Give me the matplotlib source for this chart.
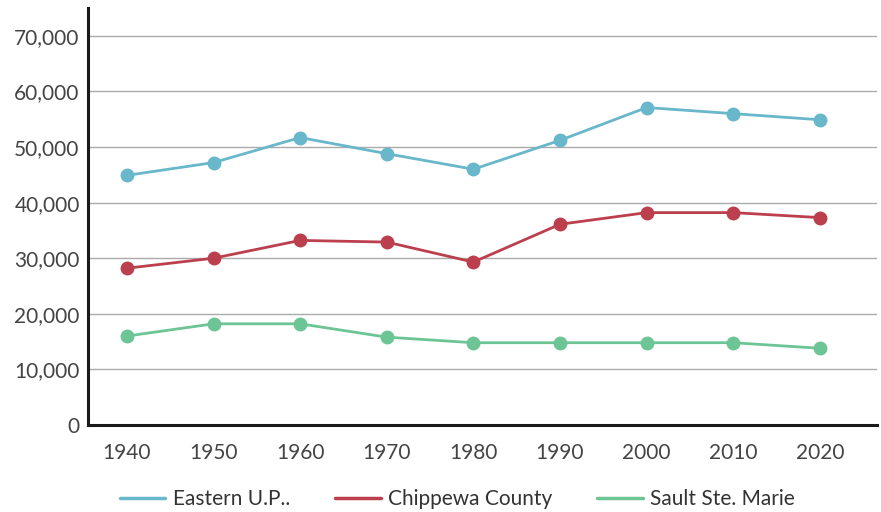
import matplotlib

matplotlib.use("Agg")

import matplotlib.pyplot as plt
import numpy as np

plt.rcParams["font.family"] = ["Lato", "DejaVu Sans"]

years = [1940, 1950, 1960, 1970, 1980, 1990, 2000, 2010, 2020]
eastern_up = [44900, 47200, 51700, 48800, 46000, 51200, 57100, 56000, 54900]
chippewa = [28200, 30000, 33200, 32900, 29300, 36100, 38200, 38200, 37300]
sault = [16000, 18200, 18200, 15800, 14800, 14800, 14800, 14800, 13800]

series = [
    ("Eastern U.P..", eastern_up, "#69B7CB"),
    ("Chippewa County", chippewa, "#BC3F4E"),
    ("Sault Ste. Marie", sault, "#6DC595"),
]

fig = plt.figure(figsize=(8.81, 5.12), dpi=100)
ax = fig.add_axes([88 / 881, 1 - 425 / 512, (877 - 88) / 881, (425 - 8) / 512])

x = np.arange(len(years))
for label, vals, color in series:
    ax.plot(x, vals, color=color, linewidth=2.0, marker="o", markersize=9,
            label=label, solid_capstyle="round")

ax.set_ylim(0, 75000)
ax.set_xlim(-0.45, 8.66)
ax.set_yticks(np.arange(0, 70001, 10000))
ax.set_yticklabels([f"{v:,}" for v in range(0, 70001, 10000)])
ax.set_xticks(x)
ax.set_xticklabels([str(y) for y in years])
ax.tick_params(axis="both", length=0, labelsize=15, labelcolor="#444444")
ax.tick_params(axis="x", pad=13)
ax.tick_params(axis="y", pad=6)

ax.grid(axis="y", color="#aaaaaa", linewidth=1.0)
ax.set_axisbelow(True)
for side in ["top", "right"]:
    ax.spines[side].set_visible(False)
for side in ["left", "bottom"]:
    ax.spines[side].set_color("#1a1a1a")
    ax.spines[side].set_linewidth(2.2)

leg = ax.legend(loc="center", bbox_to_anchor=(0.468, -0.178), ncol=3,
                frameon=False, prop={"size": 15},
                handlelength=2.2, columnspacing=2.15, handletextpad=0.35)
for h in leg.get_lines():
    h.set_marker("")
    h.set_linewidth(2.5)
for t in leg.get_texts():
    t.set_color("#333333")

fig.savefig("out.png", dpi=100)
